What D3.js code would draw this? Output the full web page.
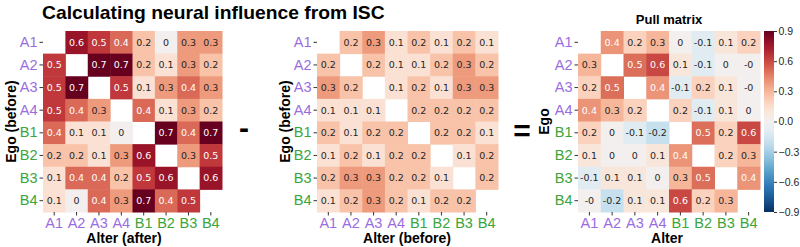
<!DOCTYPE html>
<html><head><meta charset="utf-8">
<script src="https://cdn.jsdelivr.net/npm/d3@7"></script>
<style>body{margin:0;background:#fff;}svg{display:block;font-family:"Liberation Sans",Arial,sans-serif;}</style>
</head><body>
<svg id="c" width="800" height="247"></svg>
<script>
const labels = ["A1","A2","A3","A4","B1","B2","B3","B4"];
const groupOf = ["A","A","A","A","B","B","B","B"];
const afterISC = [
 [null,0.6,0.5,0.4,0.2,0,0.3,0.3],
 [0.5,null,0.7,0.7,0.2,0.1,0.3,0.2],
 [0.5,0.7,null,0.5,0.1,0.3,0.4,0.3],
 [0.5,0.4,0.3,null,0.4,0.1,0.3,0.2],
 [0.4,0.1,0.1,0,null,0.7,0.4,0.7],
 [0.2,0.2,0.1,0.3,0.6,null,0.3,0.5],
 [0.1,0.4,0.4,0.2,0.5,0.6,null,0.6],
 [0.1,0,0.4,0.3,0.7,0.4,0.5,null]
];
const beforeISC = [
 [null,0.2,0.3,0.1,0.2,0.1,0.2,0.1],
 [0.2,null,0.2,0.1,0.1,0.2,0.3,0.2],
 [0.3,0.2,null,0.1,0.2,0.1,0.3,0.3],
 [0.1,0.1,0.1,null,0.2,0.2,0.2,0.2],
 [0.2,0.1,0.2,0.2,null,0.2,0.2,0.1],
 [0.1,0.2,0.1,0.2,0.2,null,0.1,0.2],
 [0.2,0.3,0.3,0.2,0.2,0.1,null,0.2],
 [0.1,0.2,0.3,0.2,0.1,0.2,0.2,null]
];
const pullMatrix = [
 [null,0.4,0.2,0.3,0,-0.1,0.1,0.2],
 [0.3,null,0.5,0.6,0.1,-0.1,0,-0.0001],
 [0.2,0.5,null,0.4,-0.1,0.2,0.1,-0.0001],
 [0.4,0.3,0.2,null,0.2,-0.1,0.1,0],
 [0.2,0,-0.1,-0.2,null,0.5,0.2,0.6],
 [0.1,0,0,0.1,0.4,null,0.2,0.3],
 [-0.1,0.1,0.1,0,0.3,0.5,null,0.4],
 [-0.0001,-0.2,0.1,0.1,0.6,0.2,0.3,null]
];
const cbarTicks = [0.9,0.6,0.3,0.0,-0.3,-0.6,-0.9];

const groupColor = {A:"#9a6ddf", B:"#3aa53a"};
const svg = d3.select("#c");
const yTop = 31, yBot = 212;

function fmt(v){
  if (v<0 && v>-0.05) return "-0";
  if (v===0) return "0";
  return d3.format(".1f")(v).replace("−","-");
}
function lum(c){
  const r=d3.rgb(c);
  const f=x=>{x/=255;return x<=0.03928?x/12.92:Math.pow((x+0.055)/1.055,2.4);};
  return 0.2126*f(r.r)+0.7152*f(r.g)+0.0722*f(r.b);
}

function heat(data, x0, x1, vmax, xTitle, xTitleX, yTitle, yTitleX){
  const x = d3.scaleBand().domain(labels).range([x0,x1]);
  const y = d3.scaleBand().domain(labels).range([yTop,yBot]);
  const color = d3.scaleSequential(t=>d3.interpolateRdBu(1-t)).domain([-vmax,vmax]);
  const g = svg.append("g");
  data.forEach((row,i)=>row.forEach((v,j)=>{
    if (v===null) return;
    const c = color(v);
    g.append("rect").attr("x",x(labels[j])).attr("y",y(labels[i]))
      .attr("width",x.bandwidth()+0.5).attr("height",y.bandwidth()+0.5).attr("fill",c);
    g.append("text").attr("x",x(labels[j])+x.bandwidth()/2).attr("y",y(labels[i])+y.bandwidth()/2)
      .attr("dy","0.35em").attr("text-anchor","middle").attr("font-size",9.5)
      .attr("font-family","DejaVu Sans, sans-serif")
      .attr("fill", lum(c)<0.408 ? "#ffffff" : "#262626").text(fmt(v));
  }));
  const xa = svg.append("g").attr("transform",`translate(0,${yBot})`)
    .call(d3.axisBottom(x).tickSize(3.5).tickPadding(2));
  xa.select(".domain").remove();
  xa.selectAll(".tick line").attr("stroke","#333");
  xa.selectAll(".tick text").attr("font-size",14.5).attr("font-family","Liberation Sans, Arial, sans-serif")
    .attr("fill",(d,i)=>groupColor[groupOf[i]]);
  const ya = svg.append("g").attr("transform",`translate(${x0},0)`)
    .call(d3.axisLeft(y).tickSize(3.5).tickPadding(2));
  ya.select(".domain").remove();
  ya.selectAll(".tick line").attr("stroke","#333");
  ya.selectAll(".tick text").attr("font-size",14.5).attr("font-family","Liberation Sans, Arial, sans-serif")
    .attr("fill",(d,i)=>groupColor[groupOf[i]]);
  svg.append("text").attr("x",xTitleX).attr("y",243).attr("text-anchor","middle")
    .attr("font-weight","bold").attr("font-size",14).text(xTitle);
  svg.append("text").attr("transform",`translate(${yTitleX},${(yTop+yBot)/2}) rotate(-90)`)
    .attr("text-anchor","middle").attr("font-weight","bold").attr("font-size",14).text(yTitle);
  return color;
}

heat(afterISC, 43, 222, 0.7, "Alter (after)", 124, "Ego (before)", 16);
heat(beforeISC, 317, 498, 0.7, "Alter (before)", 407, "Ego (before)", 290);
const pc = heat(pullMatrix, 578, 760, 0.9, "Alter", 667, "Ego", 549);

// colorbar
const cbx = 764, cbw = 10;
const cy = d3.scaleLinear().domain([-0.9,0.9]).range([yBot,yTop]);
const defs = svg.append("defs");
const lg = defs.append("linearGradient").attr("id","cb").attr("x1",0).attr("x2",0).attr("y1",1).attr("y2",0);
d3.range(0,1.0001,0.05).forEach(t=>lg.append("stop").attr("offset",t).attr("stop-color",pc(-0.9+1.8*t)));
svg.append("rect").attr("x",cbx).attr("y",yTop).attr("width",cbw).attr("height",yBot-yTop).attr("fill","url(#cb)");
const ca = svg.append("g").attr("transform",`translate(${cbx+cbw},0)`)
  .call(d3.axisRight(cy).tickValues(cbarTicks).tickSize(3).tickPadding(1.5).tickFormat(d=>d3.format(".1f")(d)));
ca.select(".domain").remove();
ca.selectAll(".tick line").attr("stroke","#333");
ca.selectAll(".tick text").attr("font-size",10.5).attr("font-family","Liberation Sans, Arial, sans-serif").attr("fill","#262626");

// operators
svg.append("text").attr("x",244).attr("y",138).attr("text-anchor","middle").attr("font-weight","bold")
  .attr("font-size",30).text("-");
svg.append("text").attr("x",522).attr("y",141).attr("text-anchor","middle").attr("font-weight","bold")
  .attr("font-size",30).text("=");

// titles
const tt = svg.append("text").attr("x",42).attr("y",19).attr("font-weight","bold").attr("font-size",18)
  .text("Calculating neural influence from ISC");
const w = tt.node().getComputedTextLength();
tt.attr("font-size",18*343/w);
svg.append("text").attr("x",669).attr("y",24).attr("text-anchor","middle").attr("font-weight","bold")
  .attr("font-size",13).text("Pull matrix");
</script>
</body></html>
